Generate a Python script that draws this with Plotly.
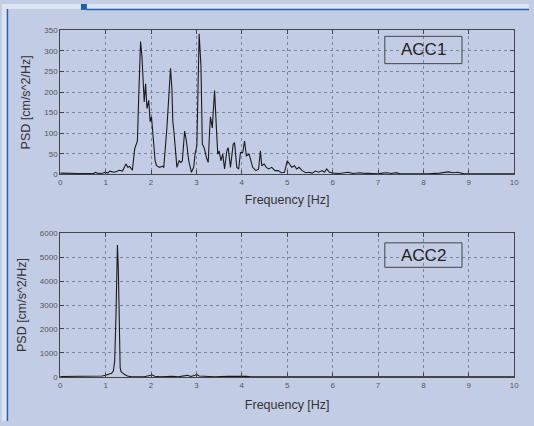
import plotly.graph_objects as go

# ---------------- data ----------------
acc1_freq = [0.0, 0.2, 0.4, 0.6, 0.74, 0.77, 0.82, 0.9, 1.0, 1.05, 1.09, 1.15, 1.2, 1.3, 1.37,
             1.45, 1.49, 1.53, 1.59, 1.64, 1.67, 1.70, 1.73, 1.77, 1.80, 1.84, 1.85, 1.88, 1.91,
             1.95, 1.98, 2.01, 2.05, 2.09, 2.12, 2.19, 2.26, 2.28, 2.35, 2.40, 2.43, 2.46, 2.48,
             2.51, 2.55, 2.57, 2.62, 2.66, 2.69, 2.72, 2.74, 2.78, 2.83, 2.89, 2.94, 2.97, 3.01,
             3.06, 3.10, 3.13, 3.17, 3.22, 3.26, 3.29, 3.31, 3.35, 3.40, 3.44, 3.47, 3.50, 3.54,
             3.58, 3.62, 3.67, 3.70, 3.75, 3.81, 3.84, 3.89, 3.93, 3.97, 4.02, 4.06, 4.10, 4.16,
             4.24, 4.31, 4.37, 4.41, 4.44, 4.49, 4.54, 4.59, 4.66, 4.73, 4.80, 4.87, 4.94, 5.00,
             5.05, 5.10, 5.16, 5.21, 5.26, 5.33, 5.41, 5.48, 5.55, 5.62, 5.69, 5.77, 5.82, 5.87,
             5.93, 6.02, 6.15, 6.34, 6.45, 6.59, 6.66, 6.80, 7.00, 7.10, 7.2, 7.3, 7.4, 7.5,
             7.8, 8.1, 8.35, 8.45, 8.55, 8.65, 8.75, 8.9, 9.2, 9.6, 10.0]
acc1_psd = [3, 2, 2, 2, 2, 5, 3, 2, 5, 3, 8, 6, 5, 10, 8,
            25, 17, 19, 10, 62, 70, 81, 192, 323, 287, 184, 176, 220, 160,
            180, 128, 140, 89, 33, 21, 17, 20, 16, 113, 208, 258, 208, 130,
            97, 41, 17, 33, 29, 33, 81, 105, 81, 33, 5, 17, 49, 70,
            342, 264, 73, 65, 41, 29, 105, 140, 113, 204, 113, 49, 57, 33,
            49, 13, 57, 65, 17, 73, 77, 17, 13, 53, 53, 81, 45, 49,
            17, 9, 13, 57, 21, 25, 17, 13, 17, 9, 9, 4, 5, 33,
            25, 17, 21, 13, 17, 9, 4, 5, 3, 8, 5, 9, 5, 13,
            5, 3, 2, 5, 2, 4, 3, 2, 1, 3, 4, 2, 4, 1,
            1, 1, 3, 5, 6, 4, 5, 1, 1, 1, 1]

acc2_freq = [0.0, 0.3, 0.6, 0.84, 0.92, 1.0, 1.06, 1.13, 1.17, 1.20, 1.23, 1.25, 1.26, 1.28,
             1.30, 1.32, 1.34, 1.37, 1.41, 1.48, 1.55, 1.7, 1.85, 1.97, 2.03, 2.08, 2.2,
             2.47, 2.6, 2.76, 2.8, 2.88, 2.95, 3.01, 3.06, 3.2, 3.4, 3.7, 4.0, 4.1, 4.2,
             4.5, 5.0, 5.5, 6.0, 7.0, 8.0, 9.0, 10.0]
acc2_psd = [20, 20, 20, 25, 40, 70, 110, 150, 250, 660, 2720, 4920, 5500, 4510,
            2040, 385, 220, 165, 110, 40, 15, 10, 10, 60, 80, 30, 10,
            25, 10, 55, 70, 20, 70, 100, 40, 30, 10, 25, 40, 30, 10,
            10, 15, 10, 10, 5, 5, 5, 5]

x_ticks = list(range(0, 11))
acc1_yticks = [0, 50, 100, 150, 200, 250, 300, 350]
acc2_yticks = [0, 1000, 2000, 3000, 4000, 5000, 6000]
labels = ["ACC1", "ACC2"]

# ---------------- figure ----------------
W, H = 534, 426
BG = "#c2cde5"
fig = go.Figure()
fig.add_trace(go.Scatter(x=acc1_freq, y=acc1_psd, mode="lines",
                         line=dict(color="#1a1a1a", width=1.1), xaxis="x", yaxis="y",
                         showlegend=False, hoverinfo="skip"))
fig.add_trace(go.Scatter(x=acc2_freq, y=acc2_psd, mode="lines",
                         line=dict(color="#1a1a1a", width=1.1), xaxis="x2", yaxis="y2",
                         showlegend=False, hoverinfo="skip"))

def px_x(p):
    return p / W

def px_y(p):
    return 1 - p / H

xd = [px_x(59), px_x(519)]
axis_common = dict(
    showline=True, linecolor="#444", linewidth=1, mirror="ticks",
    ticks="inside", ticklen=4, tickcolor="#444",
    showgrid=True, gridcolor="#7d869c", griddash="dot", gridwidth=1,
    tickfont=dict(family="Liberation Sans, Arial", size=8, color="#555"),
    zeroline=False,
)
title_font = dict(family="Liberation Sans, Arial", size=12.5, color="#333")

fig.update_layout(
    width=W, height=H, margin=dict(l=0, r=0, t=0, b=0),
    paper_bgcolor=BG, plot_bgcolor=BG,
    xaxis=dict(domain=xd, range=[0, 10], tickvals=x_ticks, anchor="y",
               title=dict(text="Frequency [Hz]", font=title_font, standoff=9), **axis_common),
    yaxis=dict(domain=[px_y(174), px_y(27)], range=[0, 350], tickvals=acc1_yticks, anchor="x",
               title=dict(text="PSD [cm/s^2/Hz]", font=title_font, standoff=10), **axis_common),
    xaxis2=dict(domain=xd, range=[0, 10], tickvals=x_ticks, anchor="y2",
                title=dict(text="Frequency [Hz]", font=title_font, standoff=11), **axis_common),
    yaxis2=dict(domain=[px_y(381), px_y(234)], range=[0, 6000], tickvals=acc2_yticks, anchor="x2",
                title=dict(text="PSD [cm/s^2/Hz]", font=title_font, standoff=10), **axis_common),
)

shapes = [
    # top light strip
    dict(type="rect", xref="paper", yref="paper", x0=0, x1=1, y0=px_y(5), y1=1,
         fillcolor="#dde3f0", line=dict(width=0), layer="below"),
    # left light strip
    dict(type="rect", xref="paper", yref="paper", x0=0, x1=px_x(5), y0=0, y1=1,
         fillcolor="#dde3f0", line=dict(width=0), layer="below"),
    # dark blue block
    dict(type="rect", xref="paper", yref="paper", x0=px_x(80), x1=px_x(86), y0=px_y(6), y1=1,
         fillcolor="#1c5ca8", line=dict(width=0)),
    # top border line
    dict(type="line", xref="paper", yref="paper", x0=px_x(85), x1=1, y0=px_y(5.5), y1=px_y(5.5),
         line=dict(color="#2a64ae", width=1.5)),
    # left border line
    dict(type="line", xref="paper", yref="paper", x0=px_x(5.5), x1=px_x(5.5), y0=0, y1=px_y(5),
         line=dict(color="#2a64ae", width=1.5)),
]
annotations = []
boxes = [("x domain", "y domain", 0.715, 0.885, 0.769, 0.959),
         ("x2 domain", "y2 domain", 0.715, 0.885, 0.762, 0.932)]
for lab, (xr, yr, x0, x1, y0, y1) in zip(labels, boxes):
    shapes.append(dict(type="rect", xref=xr, yref=yr, x0=x0, x1=x1, y0=y0, y1=y1,
                       line=dict(color="#444", width=1), fillcolor="rgba(0,0,0,0)"))
    annotations.append(dict(xref=xr, yref=yr, x=(x0 + x1) / 2, y=(y0 + y1) / 2, text=lab,
                            showarrow=False, xanchor="center", yanchor="middle",
                            font=dict(family="Liberation Sans, Arial", size=17, color="#222")))
fig.update_layout(shapes=shapes, annotations=annotations)

fig.write_html("out.html")
